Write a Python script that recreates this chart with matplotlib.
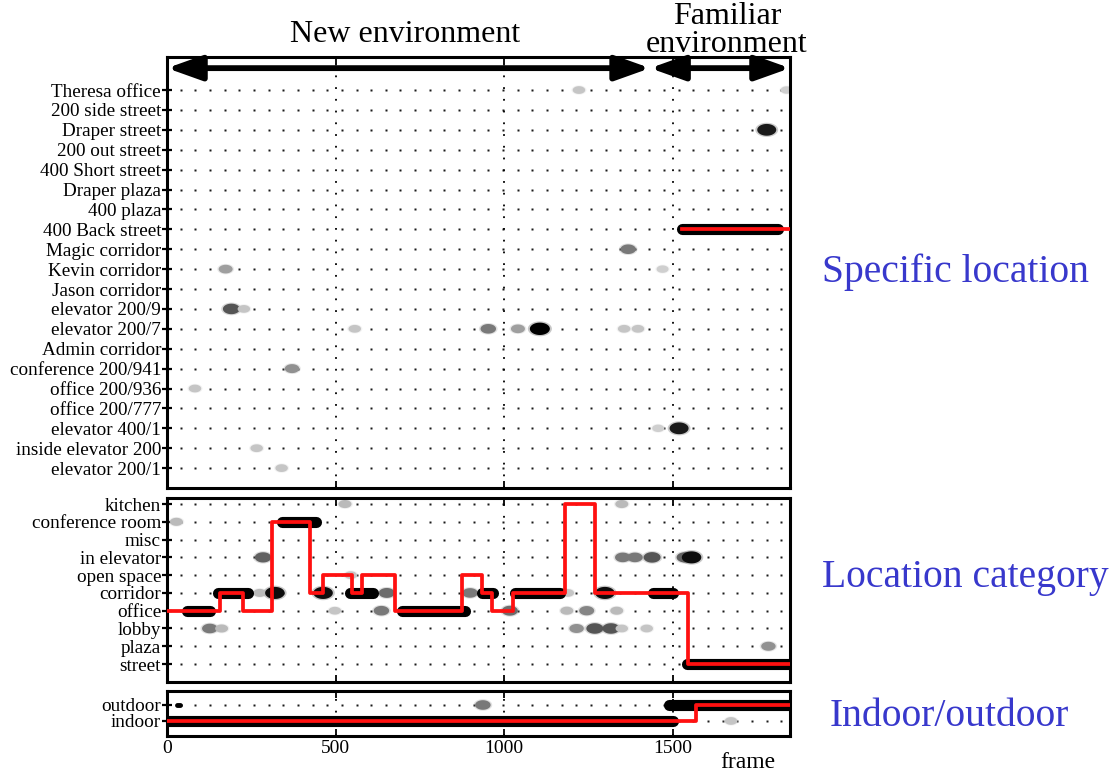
import numpy as np
import matplotlib
matplotlib.use("Agg")
import matplotlib.pyplot as plt
from matplotlib.path import Path
from matplotlib.patches import FancyArrowPatch, ArrowStyle

plt.rcParams["font.family"] = "Liberation Serif"

# ---- row labels (top to bottom) ----
SPEC_ROWS = ["Theresa office", "200 side street", "Draper street", "200 out street",
             "400 Short street", "Draper plaza", "400 plaza", "400 Back street",
             "Magic corridor", "Kevin corridor", "Jason corridor", "elevator 200/9",
             "elevator 200/7", "Admin corridor", "conference 200/941", "office 200/936",
             "office 200/777", "elevator 400/1", "inside elevator 200", "elevator 200/1"]
CAT_ROWS = ["kitchen", "conference room", "misc", "in elevator", "open space",
            "corridor", "office", "lobby", "plaza", "street"]
IO_ROWS = ["outdoor", "indoor"]

# ---- soft estimates (row, frame, probability) ----
SPEC_BLOB_ROW = ["Theresa office", "Theresa office", "Draper street", "Magic corridor",
                 "Kevin corridor", "Kevin corridor", "elevator 200/9", "elevator 200/9",
                 "elevator 200/7", "elevator 200/7", "elevator 200/7", "elevator 200/7",
                 "elevator 200/7", "elevator 200/7", "conference 200/941", "office 200/936",
                 "inside elevator 200", "elevator 200/1", "elevator 400/1", "elevator 400/1"]
SPEC_BLOB_FRAME = [1222, 1838, 1779, 1368, 174, 1470, 191, 228, 557, 953, 1041, 1106,
                   1356, 1397, 371, 83, 266, 340, 1457, 1519]
SPEC_BLOB_P = [0.25, 0.2, 0.9, 0.55, 0.4, 0.2, 0.7, 0.25, 0.25, 0.55, 0.4, 1.0,
               0.25, 0.25, 0.45, 0.25, 0.25, 0.25, 0.2, 0.9]

CAT_BLOB_ROW = ["kitchen", "kitchen", "conference room",
                "in elevator", "in elevator", "in elevator", "in elevator", "in elevator", "in elevator",
                "open space",
                "corridor", "corridor", "corridor", "corridor", "corridor", "corridor", "corridor",
                "office", "office", "office", "office", "office", "office",
                "lobby", "lobby", "lobby", "lobby", "lobby", "lobby", "lobby",
                "plaza"]
CAT_BLOB_FRAME = [528, 1349, 28,
                  285, 1352, 1388, 1439, 1536, 1556,
                  545,
                  275, 320, 463, 652, 899, 1189, 1299,
                  498, 636, 1017, 1186, 1245, 1334,
                  127, 162, 1215, 1269, 1317, 1349, 1423,
                  1784]
CAT_BLOB_P = [0.3, 0.3, 0.3,
              0.65, 0.55, 0.55, 0.7, 0.65, 0.95,
              0.25,
              0.3, 0.95, 0.95, 0.6, 0.55, 0.25, 0.95,
              0.25, 0.55, 0.6, 0.3, 0.5, 0.3,
              0.55, 0.3, 0.45, 0.7, 0.7, 0.25, 0.25,
              0.45]

IO_BLOB_ROW = ["outdoor", "indoor"]
IO_BLOB_FRAME = [937, 1673]
IO_BLOB_P = [0.55, 0.25]

# ---- confident runs (row, start frame, end frame) ----
SPEC_SEG_ROW = ["400 Back street"]
SPEC_SEG_START = [1528]
SPEC_SEG_END = [1813]

CAT_SEG_ROW = ["office", "corridor", "conference room", "corridor", "office",
               "corridor", "corridor", "corridor", "street"]
CAT_SEG_START = [59, 152, 340, 543, 696, 935, 1032, 1442, 1541]
CAT_SEG_END = [127, 241, 443, 612, 884, 968, 1166, 1502, 1848]

IO_SEG_ROW = ["indoor", "outdoor", "outdoor"]
IO_SEG_START = [0, 1490, 30]
IO_SEG_END = [1502, 1848, 40]

# ---- ground truth (step) ----
SPEC_TRUE_X = [1528, 1848]
SPEC_TRUE_ROW = ["400 Back street", "400 Back street"]
CAT_TRUE_X = [0, 157, 226, 310, 424, 463, 550, 579, 676, 874, 933, 963, 1027, 1180, 1269, 1546, 1848]
CAT_TRUE_ROW = ["office", "corridor", "office", "conference room", "corridor", "open space",
                "corridor", "open space", "office", "open space", "corridor", "office",
                "corridor", "kitchen", "corridor", "street", "street"]
IO_TRUE_X = [0, 1570, 1848]
IO_TRUE_ROW = ["indoor", "outdoor", "outdoor"]

ENV_BOUNDS = [0, 1433, 1848]
XMAX = 1848
DOT_X = np.linspace(41, 1822, 42)
XTICKS = [0, 500, 1000, 1500]

BLUE = "#3838CC"
RED = "#FF1010"

# ellipse marker, wider than tall
_t = np.linspace(0, 2 * np.pi, 60)
BLOB = Path(np.column_stack([np.cos(_t), 0.62 * np.sin(_t)]), closed=True)

fig = plt.figure(figsize=(11.18, 7.74), dpi=100)
W, H = 1118, 774


def add_ax(top, bottom, left=167, right=790):
    return fig.add_axes([left / W, 1 - bottom / H, (right - left) / W, (bottom - top) / H])


def panel(ax, rows, ylim, blob_row, blob_f, blob_p, seg_row, seg_s, seg_e, true_x, true_row):
    n = len(rows)
    ypos = {r: n - 1 - i for i, r in enumerate(rows)}
    for r in rows:
        ax.plot(DOT_X, np.full(len(DOT_X), ypos[r]), ls="none", marker="s", ms=1.8,
                mfc="#1a1a1a", mec="none", zorder=1)
    for xv in XTICKS[1:]:
        ax.axvline(xv, color="black", lw=1.3, ls=(0, (1, 5.5)), zorder=1)
    yb = [ypos[r] for r in blob_row]
    p = np.array(blob_p)
    cols = plt.cm.Greys(0.12 + 0.88 * p)
    wpx = 10 + 10 * p
    s = (wpx * 0.72) ** 2
    # soft edge: a faint wider copy under the core
    ax.scatter(blob_f, yb, s=s * 1.45, marker=BLOB, c=cols, alpha=0.22, linewidths=0, zorder=2)
    ax.scatter(blob_f, yb, s=s, marker=BLOB, c=cols, linewidths=0, zorder=2)
    for r, a, b in zip(seg_row, seg_s, seg_e):
        ax.plot([a, b], [ypos[r], ypos[r]], color="black", lw=8, solid_capstyle="round", zorder=3)
    ax.plot(true_x, [ypos[r] for r in true_row], drawstyle="steps-post", color=RED, lw=2.7, zorder=4)
    ax.set_xlim(0, XMAX)
    ax.set_ylim(*ylim)
    ax.set_yticks([ypos[r] for r in rows])
    ax.set_yticklabels(rows, fontsize=13.8)
    ax.set_xticks(XTICKS)
    ax.tick_params(axis="y", direction="inout", length=6.5, width=1.6, pad=1)
    ax.tick_params(axis="x", direction="in", length=5, width=1.3, top=True, labelsize=14, pad=3)
    for sp in ax.spines.values():
        sp.set_linewidth(2.2)


ax1 = add_ax(57, 488)
panel(ax1, SPEC_ROWS, (-1.0, 20.66), SPEC_BLOB_ROW, SPEC_BLOB_FRAME, SPEC_BLOB_P,
      SPEC_SEG_ROW, SPEC_SEG_START, SPEC_SEG_END, SPEC_TRUE_X, SPEC_TRUE_ROW)
ax1.tick_params(axis="x", labelbottom=False)

ax2 = add_ax(498, 682)
panel(ax2, CAT_ROWS, (-1.01, 9.34), CAT_BLOB_ROW, CAT_BLOB_FRAME, CAT_BLOB_P,
      CAT_SEG_ROW, CAT_SEG_START, CAT_SEG_END, CAT_TRUE_X, CAT_TRUE_ROW)
ax2.tick_params(axis="x", labelbottom=False)

ax3 = add_ax(691, 736)
panel(ax3, IO_ROWS, (-0.94, 1.875), IO_BLOB_ROW, IO_BLOB_FRAME, IO_BLOB_P,
      IO_SEG_ROW, IO_SEG_START, IO_SEG_END, IO_TRUE_X, IO_TRUE_ROW)
ax3.lines[-2].set_linewidth(3.5)  # the short dark mark near frame 0 on "outdoor"

# environment arrows inside the top panel
arrow_y = 20.1
style = ArrowStyle("<|-|>", head_length=21, head_width=7.5)
for a, b in zip(ENV_BOUNDS[:-1], ENV_BOUNDS[1:]):
    ax1.add_patch(FancyArrowPatch((a, arrow_y), (b, arrow_y), arrowstyle=style,
                                  mutation_scale=1, lw=4.2, color="black",
                                  shrinkA=0, shrinkB=0, clip_on=False, zorder=5))

fig.text(405 / W, 1 - 35 / H, "New environment", fontsize=23, ha="center", va="center")
fig.text(727 / W, 1 - 17 / H, "Familiar", fontsize=23, ha="center", va="center")
fig.text(727 / W, 1 - 45 / H, "environment", fontsize=23, ha="center", va="center")

fig.text(822 / W, 1 - 272 / H, "Specific location", fontsize=28.5, color=BLUE, ha="left", va="center")
fig.text(822 / W, 1 - 577 / H, "Location category", fontsize=28.5, color=BLUE, ha="left", va="center")
fig.text(830 / W, 1 - 716 / H, "Indoor/outdoor", fontsize=28.5, color=BLUE, ha="left", va="center")
fig.text(748 / W, 1 - 762 / H, "frame", fontsize=17, ha="center", va="center")

fig.savefig("out.png", dpi=100, facecolor="white")
